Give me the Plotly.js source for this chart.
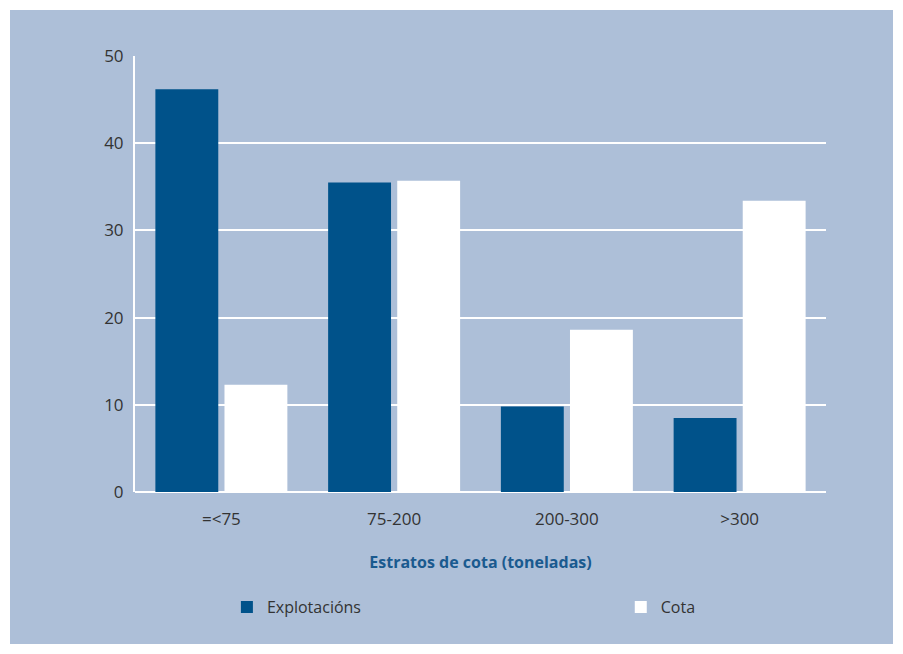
<!DOCTYPE html>
<html>
<head>
<meta charset="utf-8">
<script src="https://cdn.plot.ly/plotly-3.0.1.min.js"></script>
<style>
html,body{margin:0;padding:0;background:#ffffff;}
#chart{position:absolute;left:10px;top:10px;width:883px;height:634px;}
</style>
</head>
<body>
<div id="chart"></div>
<script>
const categories = ["=<75", "75-200", "200-300", ">300"];
const explotacions = [46.2, 35.5, 9.8, 8.5];
const cota = [12.3, 35.7, 18.6, 33.4];
const seriesNames = ["Explotacións", "Cota"];
const yTicks = [0, 10, 20, 30, 40, 50];
const xTitle = "Estratos de cota (toneladas)";

const fontFam = "'Open Sans', 'Noto Sans', sans-serif";
const traces = [
  {type: "bar", x: categories, y: explotacions, name: seriesNames[0],
   marker: {color: "#00528a"}, hoverinfo: "none", legend: "legend"},
  {type: "bar", x: categories, y: cota, name: seriesNames[1],
   marker: {color: "#ffffff"}, hoverinfo: "none", legend: "legend2"}
];
const legendBase = {
  orientation: "h", xanchor: "left", y: -0.264, yanchor: "middle",
  bgcolor: "rgba(0,0,0,0)", font: {size: 16, color: "#333333"}
};
const layout = {
  width: 883, height: 634,
  margin: {l: 125, r: 67, t: 46, b: 152},
  paper_bgcolor: "#adbfd8", plot_bgcolor: "#adbfd8",
  barmode: "group", bargap: 0.2, bargroupgap: 0.09,
  font: {family: fontFam, color: "#333333", size: 16},
  xaxis: {
    showgrid: false, showline: false, zeroline: false,
    ticks: "outside", ticklen: 12, tickcolor: "rgba(0,0,0,0)",
    tickfont: {size: 17, color: "#333333"},
    title: {text: "<b>" + xTitle + "</b>", standoff: 27,
            font: {size: 16, color: "#1a5a8f", family: fontFam}}
  },
  yaxis: {
    range: [0, 50], tickvals: yTicks,
    showgrid: true, gridcolor: "#ffffff", gridwidth: 2,
    showline: true, linecolor: "#ffffff", linewidth: 2,
    zeroline: true, zerolinecolor: "#ffffff", zerolinewidth: 2,
    ticks: "outside", ticklen: 6, tickcolor: "rgba(0,0,0,0)",
    tickfont: {size: 17, color: "#333333"}
  },
  showlegend: true,
  legend: Object.assign({}, legendBase, {x: 0.133}),
  legend2: Object.assign({}, legendBase, {x: 0.703})
};
Plotly.newPlot("chart", traces, layout, {displayModeBar: false, staticPlot: true});
</script>
</body>
</html>
